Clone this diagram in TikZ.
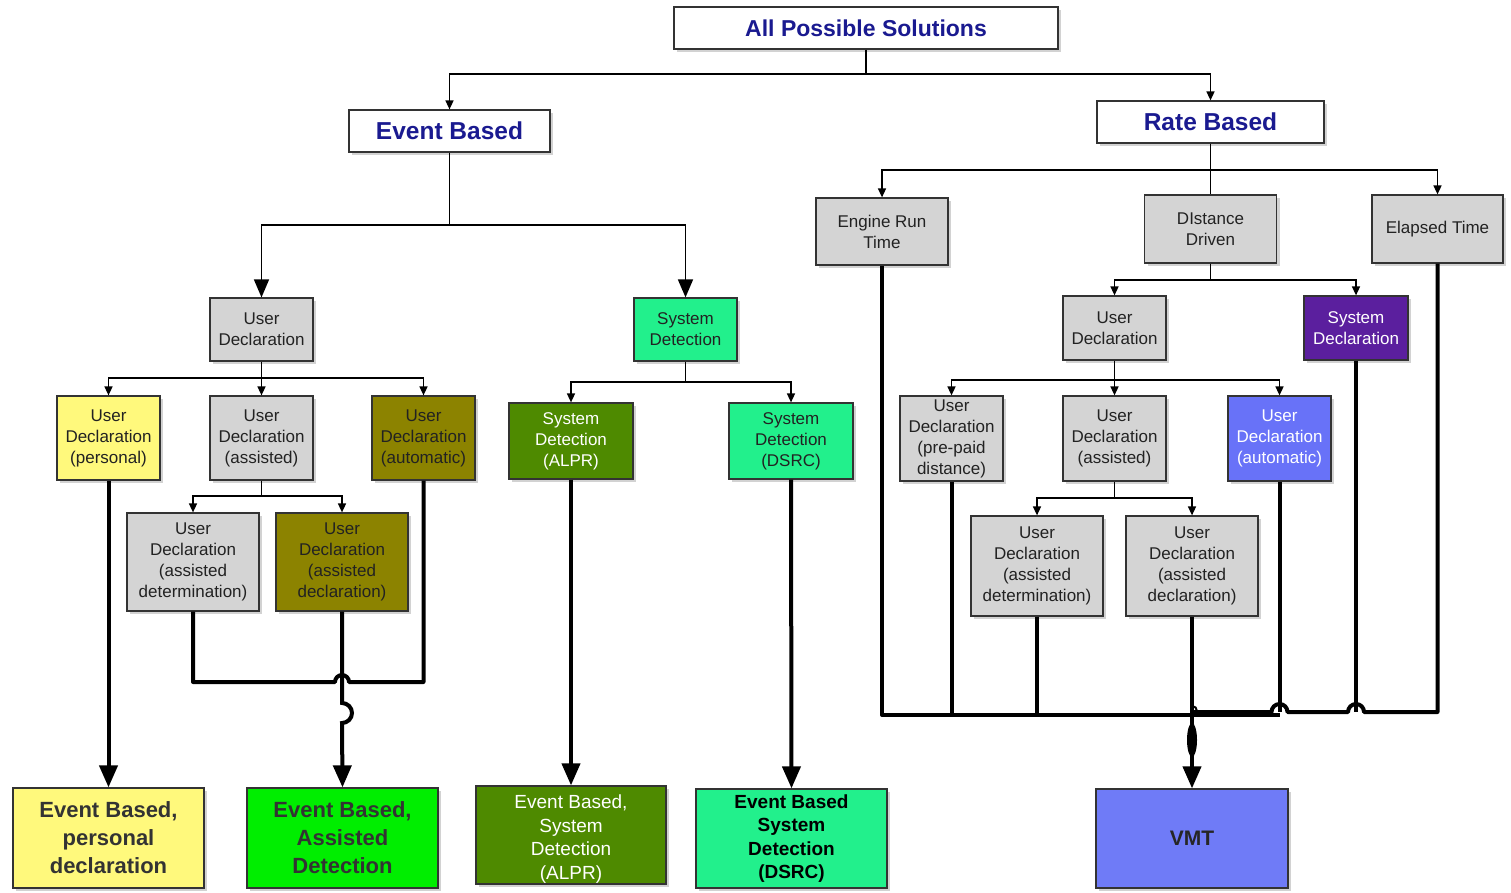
\documentclass[tikz,border=0pt]{standalone}
\usepackage{fontspec}
\setmainfont{Liberation Sans}
\usetikzlibrary{arrows.meta,shadows}
\definecolor{boxgray}{HTML}{D4D4D4}
\definecolor{ylw}{HTML}{FFF97C}
\definecolor{olv}{HTML}{8C8300}
\definecolor{sprg}{HTML}{22F08C}
\definecolor{algreen}{HTML}{4E8A00}
\definecolor{brgreen}{HTML}{00EE00}
\definecolor{vmtblue}{HTML}{6F7BF7}
\definecolor{autoblue}{HTML}{6872F8}
\definecolor{purp}{HTML}{5B1F9E}
\definecolor{ttlblue}{HTML}{1A1A90}
\definecolor{txt}{HTML}{222222}
\begin{document}
\begin{tikzpicture}[x=1pt,y=-1pt,
  box/.style={draw=black!80, line width=1.2pt, inner sep=0pt, align=center,
    fill=boxgray, text=txt,
    drop shadow={opacity=0.35, shadow xshift=3pt, shadow yshift=-3pt},
    font=\fontsize{17}{21}\selectfont},
  ttl/.style={box, fill=white, text=ttlblue, font=\fontsize{24.5}{28}\selectfont\bfseries},
  bigtxt/.style={font=\fontsize{22}{28}\selectfont\bfseries},
  midtxt/.style={font=\fontsize{19}{23.5}\selectfont},
  conn/.style={draw=black, line width=1.5pt},
  thk/.style={draw=black, line width=4pt},
  sarr/.style={-{Triangle[length=9pt,width=8pt]}},
  barr/.style={-{Triangle[length=18pt,width=15pt]}},
  harr/.style={-{Triangle[length=22pt,width=18pt]}}]
\useasboundingbox (0,0) rectangle (1511,893);
\fill[white] (0,0) rectangle (1511,893);

% top level
\node[ttl, minimum width=384pt, minimum height=42pt, font=\fontsize{23}{26}\selectfont\bfseries] (aps) at (866,28) {All Possible Solutions};
\node[ttl, minimum width=201pt, minimum height=42pt] (eb) at (449.5,131) {Event Based};
\node[ttl, minimum width=227pt, minimum height=42pt] (rb) at (1210.5,122) {Rate Based};

% event side
\node[box, minimum width=103pt, minimum height=63pt] (ud1) at (261.5,329.5) {User\\Declaration};
\node[box, fill=sprg, minimum width=103pt, minimum height=63pt] (sd1) at (685.5,329.5) {System\\Detection};
\node[box, fill=ylw, minimum width=103pt, minimum height=84pt] (udp) at (108.5,438) {User\\Declaration\\(personal)};
\node[box, minimum width=103pt, minimum height=84pt] (uda) at (261.5,438) {User\\Declaration\\(assisted)};
\node[box, fill=olv, minimum width=103pt, minimum height=84pt] (udu) at (423.5,438) {User\\Declaration\\(automatic)};
\node[box, minimum width=132pt, minimum height=98pt] (udad) at (193,562) {User\\Declaration\\(assisted\\determination)};
\node[box, fill=olv, minimum width=132pt, minimum height=98pt] (uddc) at (342,562) {User\\Declaration\\(assisted\\declaration)};
\node[box, fill=algreen, text=white, minimum width=124pt, minimum height=76pt] (alpr) at (571,441) {System\\Detection\\(ALPR)};
\node[box, fill=sprg, minimum width=124pt, minimum height=76pt] (dsrc) at (791,441) {System\\Detection\\(DSRC)};

% bottom results
\node[box, fill=ylw, bigtxt, text=black!80, minimum width=191pt, minimum height=100pt] (b1) at (108.5,838) {Event Based,\\personal\\declaration};
\node[box, fill=brgreen, bigtxt, text=black!80, minimum width=191pt, minimum height=100pt] (b2) at (342.5,838) {Event Based,\\Assisted\\Detection};
\node[box, fill=algreen, midtxt, text=white, minimum width=190pt, minimum height=98pt] (b3) at (571,835) {\\[-2pt]Event Based,\\System\\Detection\\(ALPR)};
\node[box, fill=sprg, midtxt, font=\fontsize{19}{23.5}\selectfont\bfseries, text=black, minimum width=191pt, minimum height=99pt] (b4) at (791.5,838.5) {Event Based\\System\\Detection\\(DSRC)};
\node[box, fill=vmtblue, text=black!85, font=\fontsize{21}{25}\selectfont\bfseries, minimum width=192pt, minimum height=99pt] (vmt) at (1192,838.5) {VMT};

% rate side
\node[box, minimum width=132pt, minimum height=67pt] (ert) at (882,231.5) {Engine Run\\Time};
\node[box, minimum width=132pt, minimum height=68pt] (dd) at (1210.5,229) {DIstance\\Driven};
\node[box, minimum width=131pt, minimum height=68pt] (et) at (1437.5,229) {Elapsed Time};
\node[box, minimum width=103pt, minimum height=64pt] (ud2) at (1114.5,328) {User\\Declaration};
\node[box, fill=purp, text=white, minimum width=104pt, minimum height=64pt] (sdecl) at (1356,328) {System\\Declaration};
\node[box, minimum width=103pt, minimum height=85pt] (udpp) at (951.5,438.5) {User\\Declaration\\(pre-paid\\distance)};
\node[box, minimum width=103pt, minimum height=85pt] (uda2) at (1114.5,438.5) {User\\Declaration\\(assisted)};
\node[box, fill=autoblue, text=white, minimum width=103pt, minimum height=85pt] (udau2) at (1279.5,438.5) {User\\Declaration\\(automatic)};
\node[box, minimum width=132pt, minimum height=100pt] (udad2) at (1037,566) {User\\Declaration\\(assisted\\determination)};
\node[box, minimum width=132pt, minimum height=100pt] (uddc2) at (1192,566) {User\\Declaration\\(assisted\\declaration)};

% connectors top
\coordinate (j0) at (866,74);
\draw[conn] (aps.south) -- (j0);
\draw[conn,sarr] (j0) -| (eb.north);
\draw[conn,sarr] (j0) -| (rb.north);

\coordinate (j1) at (449.5,225);
\draw[conn] (eb.south) -- (j1);
\draw[conn,barr] (j1) -| (ud1.north);
\draw[conn,barr] (j1) -| (sd1.north);

\coordinate (j2) at (261.5,378);
\draw[conn] (ud1.south) -- (j2);
\draw[conn,sarr] (j2) -| (udp.north);
\draw[conn,sarr] (j2) -- (uda.north);
\draw[conn,sarr] (j2) -| (udu.north);

\coordinate (j3) at (261.5,496);
\draw[conn] (uda.south) -- (j3);
\draw[conn,sarr] (j3) -| (udad.north);
\draw[conn,sarr] (j3) -| (uddc.north);

\coordinate (j4) at (685.5,382);
\draw[conn] (sd1.south) -- (j4);
\draw[conn,sarr] (j4) -| (alpr.north);
\draw[conn,sarr] (j4) -| (dsrc.north);

\coordinate (j5) at (1210.5,170);
\draw[conn] (rb.south) -- (j5);
\draw[conn,sarr] (j5) -| (ert.north);
\draw[conn,sarr] (j5) -| (et.north);
\draw[conn] (j5) -- (dd.north);

\coordinate (j6) at (1210.5,280);
\draw[conn] (dd.south) -- (j6);
\draw[conn,sarr] (j6) -| (ud2.north);
\draw[conn,sarr] (j6) -| (sdecl.north);

\coordinate (j7) at (1114.5,380);
\draw[conn] (ud2.south) -- (j7);
\draw[conn,sarr] (j7) -| (udpp.north);
\draw[conn,sarr] (j7) -- (uda2.north);
\draw[conn,sarr] (j7) -| (udau2.north);

\coordinate (j8) at (1114.5,498);
\draw[conn] (uda2.south) -- (j8);
\draw[conn,sarr] (j8) -| (udad2.north);
\draw[conn,sarr] (j8) -| (uddc2.north);

% thick lines, event side
\draw[thk,harr] (udp.south) -- (b1.north);
\draw[thk,harr] (alpr.south) -- (b3.north);
\draw[thk,harr] (dsrc.south) -- (b4.north);
\draw[thk,line join=round] (udad.south) -- (193,682) -- (335,682) arc (180:360:7) -- (423.5,682) -- (udu.south);
\draw[thk,harr] (uddc.south) -- (342,703) arc (-90:90:10) -- (b2.north);

% thick lines, rate side
\draw[thk,line join=round] (ert.south) -- (882,715) -- (1280,715);
\draw[thk] (udpp.south) -- (951.5,715);
\draw[thk] (udad2.south) -- (1037,715);
\draw[thk,line join=round] (et.south) -- (1437.5,712) -- (1364,712) arc (0:-180:8) -- (1287.5,712) arc (0:-180:8) -- (1192,712);
\draw[thk] (sdecl.south) -- (1356,712);
\draw[thk] (udau2.south) -- (1279.5,712);
\draw[thk,harr] (uddc2.south) -- (vmt.north);
\fill[black] (1192,740) ellipse [x radius=5pt, y radius=17pt];
\draw[line width=2pt] (1192,706) arc (-90:90:5);
\end{tikzpicture}
\end{document}
